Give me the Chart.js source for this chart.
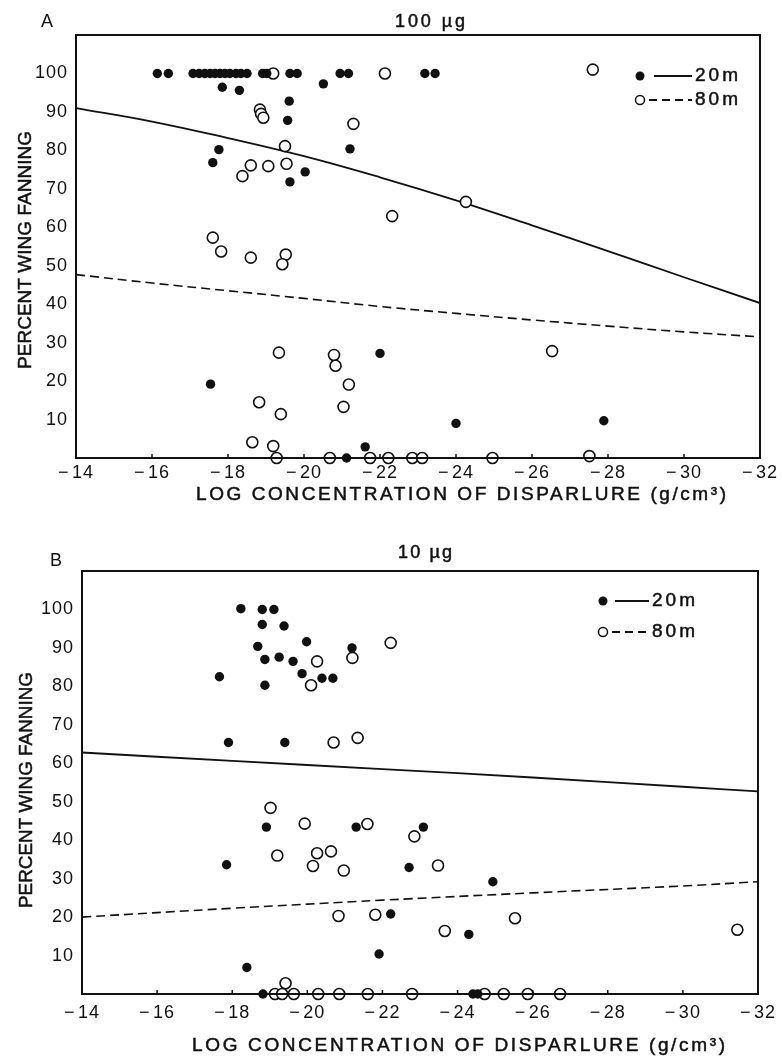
<!DOCTYPE html>
<html>
<head>
<meta charset="utf-8">
<script src="https://cdn.jsdelivr.net/npm/chart.js@4.4.1/dist/chart.umd.min.js"></script>
<style>
  body { margin: 0; background: #fff; }
  .panel { position: absolute; left: 0; width: 782px; }
  #panelA { top: 0; height: 505px; }
  #panelB { top: 505px; height: 555px; }
</style>
</head>
<body>
<div class="panel" id="panelA"><canvas id="chartA"></canvas></div>
<div class="panel" id="panelB"><canvas id="chartB"></canvas></div>
<script>
// ===== datos =====
const xTicks = [-14, -16, -18, -20, -22, -24, -26, -28, -30, -32];
const yTicks = [10, 20, 30, 40, 50, 60, 70, 80, 90, 100];

// Panel A (100 µg) - 20 m, puntos llenos
const a20x = [-16.14, -16.43, -17.08, -17.24, -17.39, -17.53, -17.66, -17.79, -17.92, -18.05, -18.21,
              -18.34, -18.5, -18.91, -19.02, -19.63, -19.82, -20.95, -21.17, -23.18, -23.45,
              -17.85, -18.3, -20.51, -19.61, -19.57, -17.76, -17.6, -20.03, -19.63, -21.21,
              -22.0, -17.54, -21.61, -24.0, -27.89, -21.12];
const a20y = [100, 100, 100, 100, 100, 100, 100, 100, 100, 100, 100,
              100, 100, 100, 100, 100, 100, 100, 100, 100, 100,
              96.4, 95.6, 97.3, 92.8, 87.8, 80.2, 76.8, 74.4, 71.8, 80.4,
              27.2, 19.2, 2.9, 9.0, 9.7, 0];
// Panel A - 80 m, circulos abiertos
const a80x = [-19.19, -22.13, -27.6, -18.84, -18.87, -18.93, -21.3, -19.5, -19.54, -18.6, -18.38,
              -19.06, -24.26, -22.32, -17.6, -17.82, -18.6, -19.52, -19.43, -19.34, -20.79,
              -20.83, -26.53, -21.18, -18.82, -19.39, -21.04, -18.64, -19.19,
              -19.28, -20.68, -21.74, -22.22, -22.85, -23.11, -24.96, -27.51];
const a80y = [100, 100, 101, 90.6, 89.5, 88.5, 86.9, 81.1, 76.5, 76.1, 73.3,
              75.9, 66.6, 62.9, 57.3, 53.7, 52.1, 52.9, 50.4, 27.4, 26.8,
              24.0, 27.8, 19.1, 14.5, 11.4, 13.3, 4.1, 3.1,
              0, 0, 0, 0, 0, 0, 0, 0.5];
// Lineas ajustadas panel A
const fitAx = [-14, -16, -18, -20, -22, -24, -26, -28, -30, -32];
const fitA20 = [91, 87.5, 83.2, 78.5, 73, 67, 60.5, 53.8, 47, 40.3];
const fitA80 = [47.7, 45.5, 43.5, 41.5, 39.4, 37.6, 35.9, 34.3, 32.8, 31.5];

// Panel B (10 µg) - 20 m
const b20x = [-18.23, -18.8, -19.11, -18.8, -19.38, -19.98, -18.68, -18.87, -19.25, -19.62, -19.86,
              -20.39, -20.68, -17.66, -18.87, -21.19, -17.9, -19.4, -18.91, -21.3, -23.09,
              -17.85, -22.71, -22.22, -21.91, -18.39, -18.82, -24.94, -24.3, -24.41, -24.54];
const b20y = [100.2, 100, 100, 96.1, 95.7, 91.6, 90.4, 87.0, 87.6, 86.5, 83.3,
              82.1, 82.1, 82.5, 80.3, 90.0, 65.4, 65.4, 43.4, 43.4, 43.4,
              33.6, 32.9, 20.8, 10.4, 6.9, 0, 29.2, 15.5, 0, 0];
// Panel B - 80 m
const b80x = [-20.26, -20.1, -21.2, -22.22, -20.7, -21.34, -19.02, -19.93, -21.6, -22.85, -19.2,
              -20.26, -20.63, -20.15, -20.97, -23.48, -20.83, -21.81, -23.66, -19.42, -25.53,
              -31.45, -19.14, -19.33, -19.64, -20.29, -20.85, -21.61, -22.79, -24.72, -25.23,
              -25.87, -26.73];
const b80y = [86.5, 80.3, 87.4, 91.3, 65.4, 66.6, 48.4, 44.3, 44.2, 41.0, 36.0,
              36.6, 37.1, 33.3, 32.1, 33.4, 20.3, 20.6, 16.4, 2.8, 19.7,
              16.7, 0, 0, 0, 0, 0, 0, 0, 0, 0,
              0, 0];
// Lineas ajustadas panel B
const fitBx = [-14, -18, -22, -26, -30, -32];
const fitB20 = [62.8, 60.6, 58.5, 56.3, 53.9, 52.7];
const fitB80 = [20.0, 22.3, 24.4, 26.3, 28.1, 29.2];

const FONT = "'Liberation Sans', Arial, sans-serif";
const INK = '#111';

function pares(xs, ys) {
    return xs.map((x, i) => ({ x: x, y: ys[i] }));
}

// texto que ocupa un ancho dado: espaciado si sobra, comprimido si falta
function textoAjustado(ctx, texto, x, y, ancho) {
    ctx.letterSpacing = '0px';
    const w = ctx.measureText(texto).width;
    ctx.save();
    ctx.textAlign = 'left';
    ctx.lineWidth = 0.5;
    if (w > ancho) {
        ctx.translate(x, y);
        ctx.scale(ancho / w, 1);
        ctx.fillText(texto, 0, 0);
        ctx.strokeText(texto, 0, 0);
    } else {
        const sp = (ancho - w) / (texto.length - 1);
        ctx.letterSpacing = sp + 'px';
        ctx.fillText(texto, x, y);
        ctx.strokeText(texto, x, y);
    }
    ctx.restore();
}

function crearPanel(id, cfg) {
    const decor = {
        id: 'decor',
        beforeDraw(chart) {
            chart.ctx.letterSpacing = '1px';
        },
        afterDatasetsDraw(chart) {
            const ctx = chart.ctx;
            const a = chart.chartArea;
            const xs = chart.scales.x;
            ctx.save();
            ctx.strokeStyle = INK;
            ctx.lineWidth = 2;
            ctx.strokeRect(a.left, a.top, a.right - a.left, a.bottom - a.top);
            // marcas cortas hacia adentro en el eje x
            ctx.lineWidth = 1.5;
            xTicks.forEach(t => {
                const px = xs.getPixelForValue(t);
                ctx.beginPath();
                ctx.moveTo(px, a.bottom);
                ctx.lineTo(px, a.bottom - 4);
                ctx.stroke();
            });
            ctx.restore();
        },
        afterDraw(chart) {
            const ctx = chart.ctx;
            ctx.save();
            ctx.fillStyle = INK;
            ctx.strokeStyle = INK;
            ctx.textBaseline = 'middle';

            // letra del panel y titulo
            ctx.font = '18px ' + FONT;
            ctx.letterSpacing = '0px';
            ctx.textAlign = 'center';
            ctx.fillText(cfg.letra, cfg.letraPos[0], cfg.letraPos[1]);
            const t = cfg.titulo;
            textoAjustado(ctx, t.texto, t.x, t.y, t.w);

            // leyenda
            const lg = cfg.leyenda;
            ctx.beginPath();
            ctx.arc(lg.x, lg.y1, 4.5, 0, Math.PI * 2);
            ctx.fill();
            ctx.lineWidth = 1.5;
            ctx.beginPath();
            ctx.arc(lg.x, lg.y2, 4.5, 0, Math.PI * 2);
            ctx.stroke();
            ctx.lineWidth = 2;
            ctx.beginPath();
            ctx.moveTo(lg.l1, lg.y1);
            ctx.lineTo(lg.l2, lg.y1);
            ctx.stroke();
            ctx.setLineDash([8, 5]);
            ctx.beginPath();
            ctx.moveTo(lg.x + 9, lg.y2);
            ctx.lineTo(lg.l2, lg.y2);
            ctx.stroke();
            ctx.setLineDash([]);
            ctx.font = '19px ' + FONT;
            textoAjustado(ctx, '20m', lg.l2 + 3, lg.y1, 43);
            textoAjustado(ctx, '80m', lg.l2 + 3, lg.y2, 43);

            // titulos de los ejes
            ctx.font = '19px ' + FONT;
            const xt = cfg.tituloX;
            textoAjustado(ctx, 'LOG CONCENTRATION OF DISPARLURE (g/cm\u00B3)', xt.x, xt.y, xt.w);
            const yt = cfg.tituloY;
            ctx.translate(yt.x, yt.cy);
            ctx.rotate(-Math.PI / 2);
            textoAjustado(ctx, 'PERCENT WING FANNING', -yt.w / 2, 0, yt.w);
            ctx.restore();
        }
    };

    return new Chart(document.getElementById(id), {
        type: 'scatter',
        data: {
            datasets: [
                {
                    label: '20m',
                    data: pares(cfg.x20, cfg.y20),
                    pointStyle: 'circle',
                    pointRadius: 4.7,
                    pointBackgroundColor: INK,
                    pointBorderColor: INK,
                    pointBorderWidth: 0,
                    clip: false,
                    order: 0
                },
                {
                    label: '80m',
                    data: pares(cfg.x80, cfg.y80),
                    pointStyle: 'circle',
                    pointRadius: 5.5,
                    pointBackgroundColor: '#fff',
                    pointBorderColor: INK,
                    pointBorderWidth: 1.6,
                    clip: false,
                    order: 0
                },
                {
                    label: 'ajuste 20m',
                    data: pares(cfg.fitX, cfg.fit20),
                    showLine: true,
                    borderColor: INK,
                    borderWidth: 1.8,
                    tension: 0.4,
                    pointRadius: 0,
                    order: 1
                },
                {
                    label: 'ajuste 80m',
                    data: pares(cfg.fitX, cfg.fit80),
                    showLine: true,
                    borderColor: INK,
                    borderWidth: 1.6,
                    borderDash: [9, 5],
                    tension: 0.4,
                    pointRadius: 0,
                    order: 1
                }
            ]
        },
        options: {
            responsive: true,
            maintainAspectRatio: false,
            animation: false,
            layout: { padding: { top: cfg.top, right: cfg.right, left: 0, bottom: 0 } },
            plugins: {
                legend: { display: false },
                tooltip: { enabled: false },
                title: { display: false }
            },
            scales: {
                x: {
                    type: 'linear',
                    min: -32,
                    max: -14,
                    reverse: true,
                    afterFit: s => { s.height = cfg.alturaX; },
                    afterBuildTicks: s => { s.ticks = xTicks.map(v => ({ value: v })); },
                    grid: { display: false, drawTicks: false },
                    border: { display: false },
                    ticks: {
                        callback: v => '\u2212\u200A' + Math.abs(v),
                        font: { family: FONT, size: 18 },
                        color: INK,
                        padding: cfg.padX,
                        maxRotation: 0,
                        autoSkip: false
                    }
                },
                y: {
                    min: 0,
                    max: 110,
                    afterFit: s => { s.width = cfg.anchoY; },
                    afterBuildTicks: s => { s.ticks = yTicks.map(v => ({ value: v })); },
                    grid: { display: false, drawTicks: false },
                    border: { display: false },
                    ticks: {
                        font: { family: FONT, size: 18 },
                        color: INK,
                        padding: 8
                    }
                }
            }
        },
        plugins: [decor]
    });
}

crearPanel('chartA', {
    x20: a20x, y20: a20y, x80: a80x, y80: a80y,
    fitX: fitAx, fit20: fitA20, fit80: fitA80,
    top: 35, right: 22, anchoY: 76, alturaX: 47, padX: 4,
    letra: 'A', letraPos: [47, 22],
    titulo: { texto: '100 \u00B5g', x: 395, y: 22, w: 70 },
    leyenda: { x: 640, y1: 76, y2: 100, l1: 654, l2: 692 },
    tituloX: { x: 196, y: 495, w: 530 },
    tituloY: { x: 26, cy: 250, w: 238 }
});

crearPanel('chartB', {
    x20: b20x, y20: b20y, x80: b80x, y80: b80y,
    fitX: fitBx, fit20: fitB20, fit80: fitB80,
    top: 66, right: 17, anchoY: 82, alturaX: 66, padX: 8,
    letra: 'B', letraPos: [56, 56],
    titulo: { texto: '10 \u00B5g', x: 398, y: 48, w: 54 },
    leyenda: { x: 603, y1: 96, y2: 127, l1: 615, l2: 649 },
    tituloX: { x: 192, y: 541, w: 533 },
    tituloY: { x: 27, cy: 285, w: 236 }
});
</script>
</body>
</html>
